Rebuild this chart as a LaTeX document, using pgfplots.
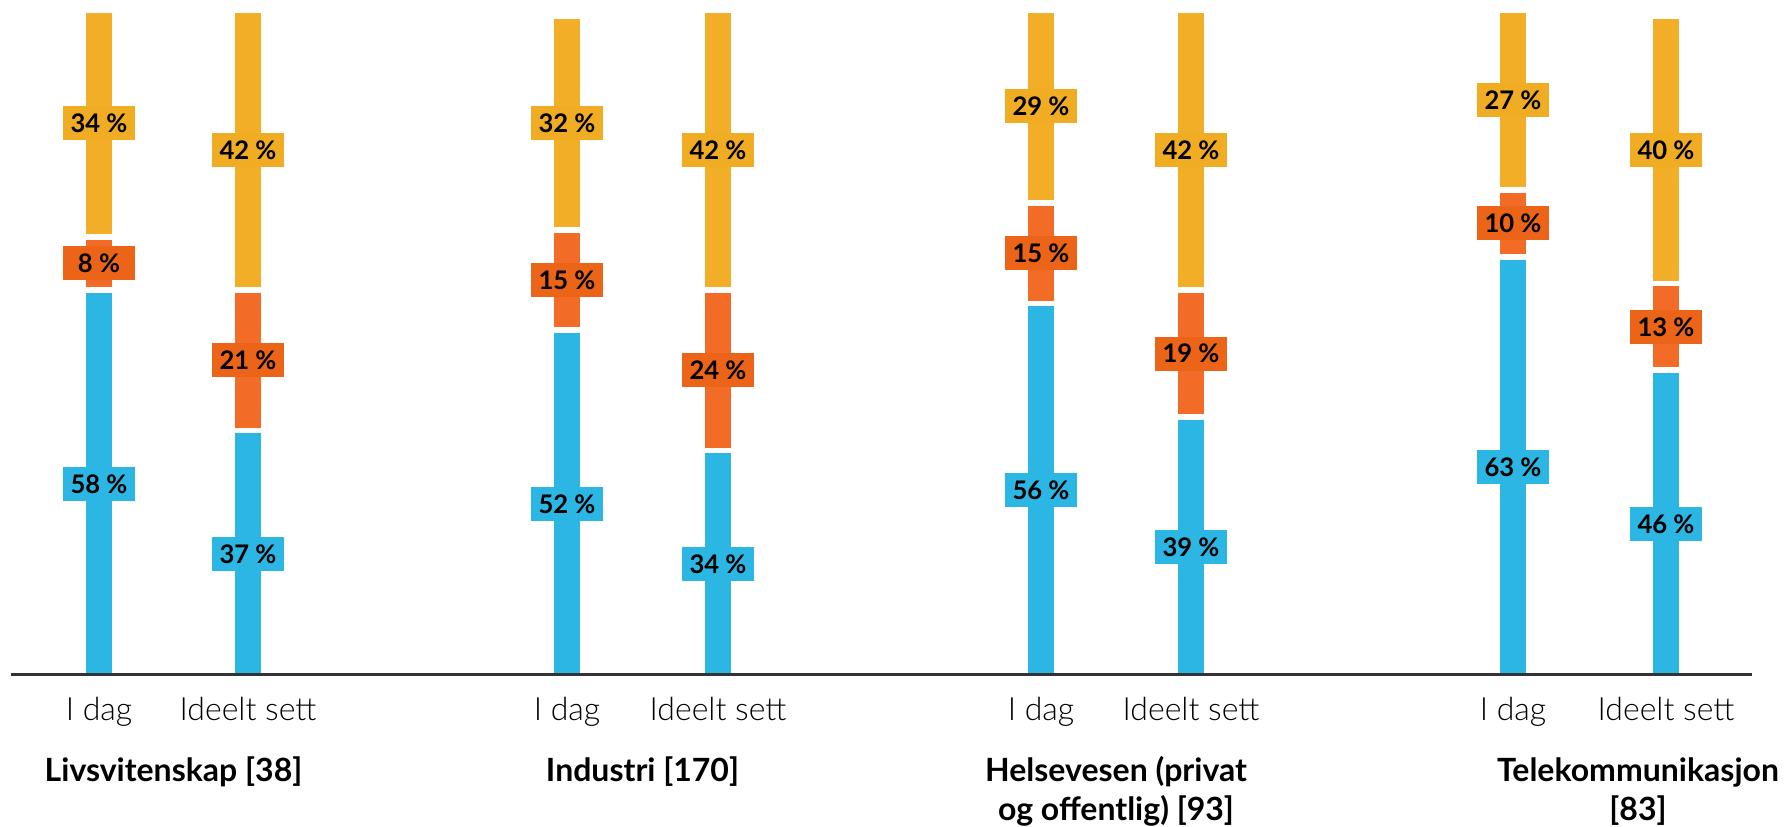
\documentclass[border=0pt]{standalone}
\usepackage{pgfplots}
\pgfplotsset{compat=1.18}
\usepackage{pgfplotstable}
\usepackage{fontspec}
\setmainfont{Lato}
\newfontfamily\lightfont{Lato Light}
\definecolor{cblue}{HTML}{2BB6E4}
\definecolor{corange}{HTML}{F26C27}
\definecolor{corangebox}{HTML}{EB6418}
\definecolor{cyellow}{HTML}{F2AE26}
\definecolor{cyellowbox}{HTML}{F0AC22}

\pgfplotstableread{
x    blue orange yellow
99   58   8      34
248  37   21     42
567  52   15     32
718  34   24     42
1041 56   15     29
1191 39   19     42
1513 63   10     27
1666 46   13     40
}\data

\begin{document}
\begin{tikzpicture}
\begin{axis}[
  scale only axis,
  width=895pt, height=413.5pt,
  xmin=0, xmax=1790, ymin=-22.39, ymax=101.45,
  axis x line=middle, axis y line=none,
  axis on top=true,
  x axis line style={-, line width=1.2pt, black!80, shorten <=5.5pt, shorten >=19pt, yshift=1.43pt},
  ybar stacked, bar width=15.85pt,
  xtick={99,248,567,718,1041,1191,1513,1666},
  xticklabels={I dag, Ideelt sett, I dag, Ideelt sett, I dag, Ideelt sett, I dag, Ideelt sett},
  major tick length=0pt,
  xticklabel style={anchor=base, yshift=-21.5pt, font=\lightfont\fontsize{16}{19}\selectfont, text=black},
  ytick=\empty,
  clip=false,
  /pgf/number format/assume math mode=true,
  visualization depends on=rawy \as \val,
  nodes near coords={\pgfmathprintnumber{\val}\ \%},
  every node near coord/.append style={anchor=center, text=black, font=\bfseries\fontsize{12.8}{15}\selectfont, minimum width=36pt, minimum height=17pt, inner sep=0pt},
]
\addplot[fill=cblue, draw=white, line width=2.85pt,
  every node near coord/.append style={fill=cblue}]
  table[x=x, y=blue] {\data};
\addplot[fill=corange, draw=white, line width=2.85pt,
  every node near coord/.append style={fill=corangebox}]
  table[x=x, y=orange] {\data};
\addplot[fill=cyellow, draw=white, line width=2.85pt,
  every node near coord/.append style={fill=cyellowbox}]
  table[x=x, y=yellow] {\data};
\tikzset{grp/.style={anchor=base, inner sep=0pt, font=\bfseries\fontsize{16}{19}\selectfont}}
\node[grp] at (axis cs:173.5,-15.65) {Livsvitenskap [38]};
\node[grp] at (axis cs:642.5,-15.65) {Industri [170]};
\node[grp] at (axis cs:1116,-15.65) {Helsevesen (privat};
\node[grp] at (axis cs:1116,-21.4) {og offentlig) [93]};
\node[grp] at (axis cs:1638,-15.65) {Telekommunikasjon};
\node[grp] at (axis cs:1638,-21.4) {[83]};
\end{axis}
\pgfresetboundingbox
\path[use as bounding box] (current axis.south west) rectangle (current axis.north east);
\end{tikzpicture}
\end{document}
